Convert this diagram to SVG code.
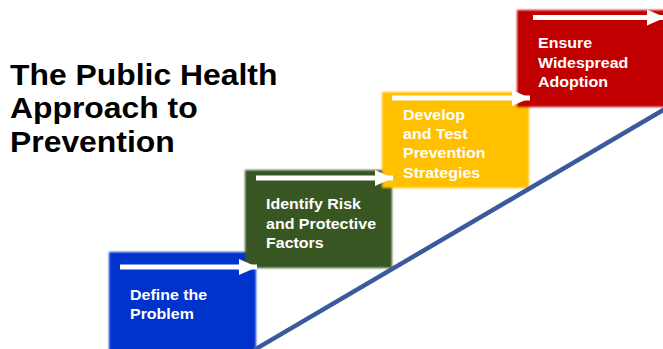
<svg xmlns="http://www.w3.org/2000/svg" width="663" height="349" viewBox="0 0 663 349">
<style>
.box{filter:url(#soft)}
.lbl{font-family:"Liberation Sans",Arial,sans-serif;font-weight:bold;font-size:15px;fill:#ffffff}
.title{font-family:"Liberation Sans",Arial,sans-serif;font-weight:bold;font-size:30px;fill:#000000}
.arr{stroke:#ffffff;stroke-width:5;fill:none;marker-end:url(#head)}
</style>
<defs>
<filter id="soft" x="-5%" y="-5%" width="110%" height="110%"><feGaussianBlur stdDeviation="0.9"/></filter>
<marker id="head" markerUnits="userSpaceOnUse" markerWidth="18" markerHeight="18" viewBox="0 0 18 18" refX="18" refY="9" orient="auto"><path d="M0,1 L18,9 L0,17 Z" fill="#ffffff"/></marker>
</defs>
<rect width="663" height="349" fill="#ffffff"/>
<g id="title" transform="translate(10,0) scale(1.063,1)">
<text class="title" x="0" y="85">The Public Health</text>
<text class="title" x="0" y="118">Approach to</text>
<text class="title" x="0" y="152">Prevention</text>
</g>
<g id="step1">
<rect class="box" x="109" y="252" width="147" height="100" fill="#0533cc"/>
<g transform="translate(130,0) scale(1.065,1)">
<text class="lbl" x="0" y="300">Define the</text>
<text class="lbl" x="0" y="319">Problem</text>
</g>
</g>
<g id="step2">
<rect class="box" x="245" y="170" width="147" height="98" fill="#385723"/>
<g transform="translate(266,0) scale(1.065,1)">
<text class="lbl" x="0" y="209">Identify Risk</text>
<text class="lbl" x="0" y="229">and Protective</text>
<text class="lbl" x="0" y="248">Factors</text>
</g>
</g>
<g id="step3">
<rect class="box" x="382" y="92" width="147" height="96" fill="#ffc000"/>
<g transform="translate(403,0) scale(1.065,1)">
<text class="lbl" x="0" y="120">Develop</text>
<text class="lbl" x="0" y="139">and Test</text>
<text class="lbl" x="0" y="158">Prevention</text>
<text class="lbl" x="0" y="178">Strategies</text>
</g>
</g>
<g id="step4">
<rect class="box" x="517" y="10" width="150" height="97" fill="#c00000"/>
<g transform="translate(538,0) scale(1.065,1)">
<text class="lbl" x="0" y="48">Ensure</text>
<text class="lbl" x="0" y="68">Widespread</text>
<text class="lbl" x="0" y="87">Adoption</text>
</g>
</g>
<g id="connectors">
<line class="arr" x1="120" y1="267" x2="257" y2="267"/>
<line class="arr" x1="256" y1="178" x2="393" y2="178"/>
<line class="arr" x1="392" y1="98" x2="530" y2="98"/>
<line class="arr" x1="533" y1="17.5" x2="665" y2="17.5"/>
<line x1="254" y1="350" x2="665" y2="109" stroke="#3a5a9c" stroke-width="4.5"/>
</g>
</svg>
